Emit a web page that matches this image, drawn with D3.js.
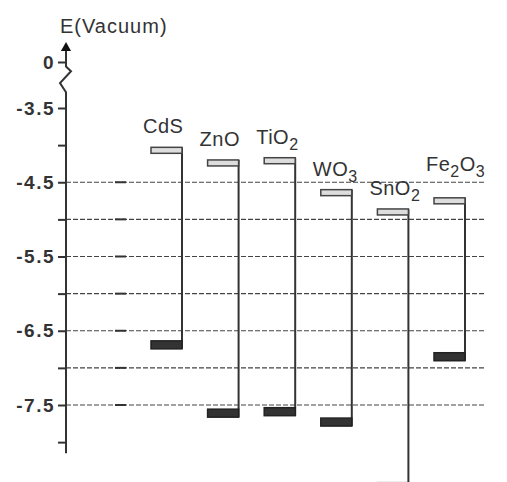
<!DOCTYPE html>
<html>
<head>
<meta charset="utf-8">
<script src="https://cdn.jsdelivr.net/npm/d3@7/dist/d3.min.js"></script>
<style>
  html, body { margin: 0; padding: 0; background: #fff; }
  svg { display: block; font-family: "Liberation Sans", Arial, sans-serif; }
</style>
</head>
<body>
<div id="chart"></div>
<script>
// band edges vs vacuum (eV)
const materials = ['CdS', 'ZnO', 'TiO2', 'WO3', 'SnO2', 'Fe2O3'];
const cbValues = [-4.07, -4.24, -4.21, -4.64, -4.90, -4.75];
const vbValues = [-6.69, -7.61, -7.59, -7.73, -8.60, -6.85];

const tickValues = [0, -3.5, -4.0, -4.5, -5.0, -5.5, -6.0, -6.5, -7.0, -7.5, -8.0];
const tickLabels = ['0', '-3.5', '', '-4.5', '', '-5.5', '', '-6.5', '', '-7.5', ''];
const gridValues = [-4.5, -5.0, -5.5, -6.0, -6.5, -7.0, -7.5];

const width = 507, height = 482;
const axisX = 66;

const svg = d3.select('#chart').append('svg')
  .attr('width', width)
  .attr('height', height);

// broken axis: 0 sits just above the -3.5..-8 part
const y = d3.scaleLinear()
  .domain([0, -3.5, -7.5])
  .range([62, 108, 405]);

const x = d3.scalePoint()
  .domain(materials)
  .range([182, 465]);

// grid lines
const grid = svg.append('g');
grid.selectAll('line.grid')
  .data(gridValues)
  .enter()
  .append('line')
  .attr('class', 'grid')
  .attr('x1', axisX)
  .attr('x2', 484)
  .attr('y1', d => y(d))
  .attr('y2', d => y(d))
  .attr('stroke', '#444')
  .attr('stroke-width', 1.2)
  .attr('stroke-dasharray', '5,2');
grid.selectAll('line.mark')
  .data(gridValues)
  .enter()
  .append('line')
  .attr('class', 'mark')
  .attr('x1', 115)
  .attr('x2', 126)
  .attr('y1', d => y(d))
  .attr('y2', d => y(d))
  .attr('stroke', '#333')
  .attr('stroke-width', 2);

// axis
const axis = d3.axisLeft(y)
  .tickValues(tickValues)
  .tickFormat((d, i) => tickLabels[i])
  .tickSize(8)
  .tickPadding(3);

const gAxis = svg.append('g')
  .attr('transform', 'translate(' + axisX + ',0)')
  .call(axis);
gAxis.select('.domain').remove();
gAxis.selectAll('.tick line').attr('stroke', '#333').attr('stroke-width', 2);
gAxis.selectAll('.tick text')
  .attr('font-size', '19px')
  .attr('font-weight', 'bold')
  .attr('letter-spacing', '1.5px')
  .attr('fill', '#333');

const axisPath = d3.path();
axisPath.moveTo(axisX, 50);
axisPath.lineTo(axisX, y(-0.35));
axisPath.lineTo(axisX + 5, y(-0.7));
axisPath.lineTo(axisX - 6, y(-1.6));
axisPath.lineTo(axisX, y(-2.3));
axisPath.lineTo(axisX, y(-8.15));
svg.append('path')
  .attr('d', axisPath.toString())
  .attr('fill', 'none')
  .attr('stroke', '#333')
  .attr('stroke-width', 2);

svg.append('path')
  .attr('d', d3.symbol().type(d3.symbolTriangle).size(45)())
  .attr('transform', 'translate(' + axisX + ',48)')
  .attr('fill', '#111');

svg.append('text')
  .attr('x', 60)
  .attr('y', 33)
  .attr('font-size', '20px')
  .attr('letter-spacing', '1px')
  .attr('fill', '#333')
  .text('E(Vacuum)');

// bands
const rectW = 31;
const bands = svg.selectAll('g.band')
  .data(materials.map((m, i) => ({ name: m, cb: cbValues[i], vb: vbValues[i] })))
  .enter()
  .append('g')
  .attr('class', 'band');

bands.append('line')
  .attr('x1', d => x(d.name))
  .attr('x2', d => x(d.name))
  .attr('y1', d => y(d.cb) - 3)
  .attr('y2', d => y(d.vb) + 4)
  .attr('stroke', '#333')
  .attr('stroke-width', 2);

bands.append('rect')
  .attr('x', d => x(d.name) - rectW)
  .attr('y', d => y(d.cb) - 3)
  .attr('width', rectW)
  .attr('height', 6)
  .attr('fill', '#ddd')
  .attr('stroke', '#444')
  .attr('stroke-width', 1.5);

bands.append('rect')
  .attr('x', d => x(d.name) - rectW)
  .attr('y', d => y(d.vb) - 4)
  .attr('width', rectW)
  .attr('height', 8)
  .attr('fill', '#333')
  .attr('stroke', '#222')
  .attr('stroke-width', 1.5);

// labels with subscripts
const labelLift = { Fe2O3: 24 };
const label = bands.append('text')
  .attr('x', d => x(d.name) - 39)
  .attr('y', d => y(d.cb) - (labelLift[d.name] || 11))
  .attr('font-size', '20px')
  .attr('letter-spacing', '0.5px')
  .attr('fill', '#333');

label.each(function (d) {
  const t = d3.select(this);
  d.name.split(/(\d)/).forEach(part => {
    if (!part) return;
    if (/\d/.test(part)) {
      t.append('tspan').attr('dy', 6).attr('font-size', '16px').text(part);
    } else {
      t.append('tspan').attr('dy', t.selectAll('tspan').size() ? -6 : 0).text(part);
    }
  });
});
</script>
</body>
</html>
